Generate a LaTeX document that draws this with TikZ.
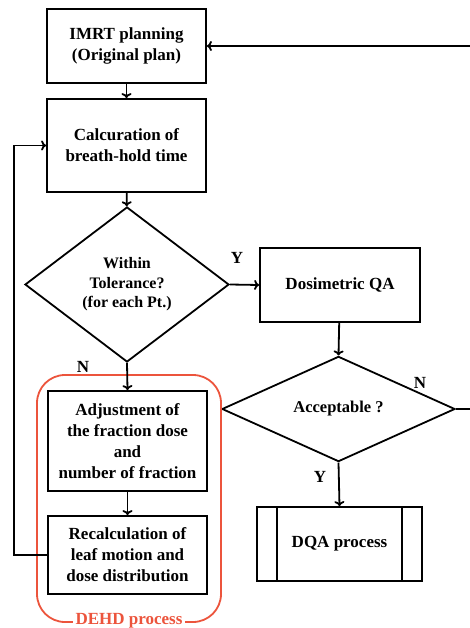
\documentclass[tikz,border=0pt]{standalone}
\usepackage{fontspec}
\setmainfont{Liberation Serif}
\usepackage{tikz}
\usetikzlibrary{arrows.meta, shapes.geometric, calc}
\definecolor{dehdred}{RGB}{236,84,60}

\tikzset{
  stepbox/.style={draw, align=center, inner sep=2pt,
    font=\fontsize{17}{21}\selectfont\bfseries},
  decision/.style={draw, diamond, align=center, inner sep=0pt,
    font=\fontsize{16}{19.5}\selectfont\bfseries},
  flow/.style={-{To[length=5pt,width=10pt]}},
  yn/.style={font=\fontsize{17}{21}\selectfont\bfseries}
}

\begin{document}
\begin{tikzpicture}[x=1pt, y=-1pt, line width=1.8pt]
\useasboundingbox (0,0) rectangle (470,628);

% main column
\node[stepbox, minimum width=159pt, minimum height=74pt] (imrt) at (126.5,46) {IMRT planning\\(Original plan)};
\node[stepbox, minimum width=159pt, minimum height=93pt] (calc) at (126.5,145.5) {Calcuration of\\breath-hold time};
\node[decision, minimum width=204pt, minimum height=155pt] (tol) at (127,284.5) {Within\\Tolerance?\\(for each Pt.)};
\node[stepbox, minimum width=159pt, minimum height=100pt] (adj) at (127.5,441) {Adjustment of\\the fraction dose\\and\\number of fraction};
\node[stepbox, minimum width=159pt, minimum height=78pt] (recalc) at (127.5,555) {Recalculation of\\leaf motion and\\dose distribution};

% QA column
\node[stepbox, minimum width=160pt, minimum height=74pt] (dosqa) at (340,285) {Dosimetric QA};
\node[decision, minimum width=233pt, minimum height=79pt] (acc) at (338.5,409) {\fontsize{16.5}{19}\selectfont Acceptable ?};
\node[stepbox, minimum width=165pt, minimum height=74pt] (dqa) at (339.5,544) {DQA process};
\draw ([xshift=21pt]dqa.north west) -- ([xshift=21pt]dqa.south west);
\draw ([xshift=-21pt]dqa.north east) -- ([xshift=-21pt]dqa.south east);

% DEHD group
\draw[dehdred, rounded corners=28pt] (37,375) rectangle (221,622);
\node[fill=white, text=dehdred, font=\fontsize{17}{21}\selectfont\bfseries, inner sep=3pt] (dehd) at (129,621) {DEHD process};

% connectors
\draw[flow] (imrt) -- (calc);
\draw[flow] (calc) -- (tol);
\draw[flow] (tol.east) -- (dosqa.west);
\draw[flow] (tol.south) -- (adj.north);
\draw[flow] (adj) -- (recalc);
\draw[flow] (dosqa) -- (acc.north);
\draw[flow] (acc.south) -- (dqa.north);
\draw[flow] (recalc.west) -- ++(-33,0) |- (calc.west);
\draw[flow] (acc.east) -- ++(19,0) |- (imrt.east);

% branch labels
\node[yn] (tolY) at (237,258) {Y};
\node[yn] (tolN) at (83,367) {N};
\node[yn] (accN) at (420,383) {N};
\node[yn] (accY) at (320,477) {Y};
\end{tikzpicture}
\end{document}
